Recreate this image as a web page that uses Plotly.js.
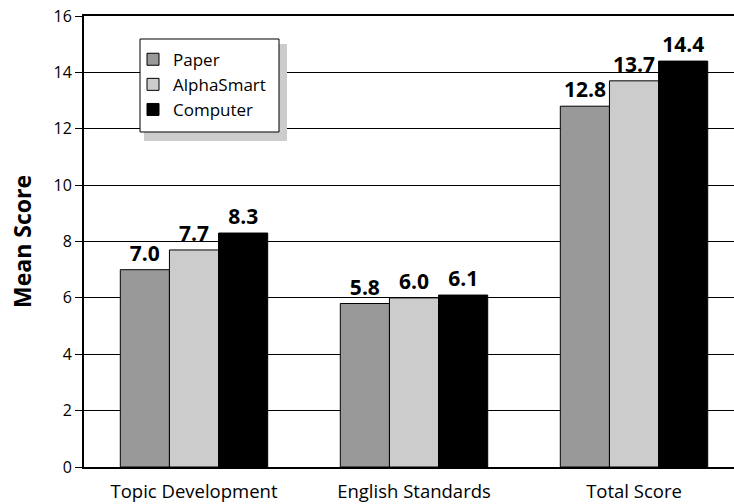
<!DOCTYPE html>
<html><head><meta charset="utf-8">
<script src="https://cdn.plot.ly/plotly-3.0.1.min.js"></script>
<style>html,body{margin:0;padding:0;background:#fff}#chart{width:734px;height:504px}</style>
</head><body><div id="chart"></div>
<script>
const categories = ['Topic Development', 'English Standards', 'Total Score'];
const seriesNames = ['Paper', 'AlphaSmart', 'Computer'];
const paperValues = [7.0, 5.8, 12.8];
const alphaSmartValues = [7.7, 6.0, 13.7];
const computerValues = [8.3, 6.1, 14.4];
const yTicks = [0, 2, 4, 6, 8, 10, 12, 14, 16];
const colors = ['#999999', '#cccccc', '#000000'];
const FONT = 'Open Sans, Lato, sans-serif';

const xIdx = categories.map((c, i) => i);
const allValues = [paperValues, alphaSmartValues, computerValues];
const traces = allValues.map((vals, k) => ({
  type: 'bar', name: seriesNames[k], x: xIdx, y: vals,
  legendgroup: 'g' + k,
  marker: {color: colors[k], line: {color: '#000', width: 1}},
  texttemplate: '<b>%{y:.1f}</b>', textposition: 'outside', cliponaxis: false,
  textfont: {family: FONT, size: 21, color: '#000'},
  hoverinfo: 'none'
}));

const boundaries = categories.slice(0, -1).map((c, i) => i + 0.5).concat([-0.5]);
const xr = [-0.5, 2.4545];

const layout = {
  width: 734, height: 504,
  margin: {l: 84, r: 0, t: 16, b: 37},
  paper_bgcolor: '#fff', plot_bgcolor: '#fff',
  font: {family: FONT, color: '#000'},
  barmode: 'group', bargap: 0.33, bargroupgap: 0,
  showlegend: true,
  legend: {x: 0.0754, y: 0.943, xanchor: 'left', yanchor: 'top',
    bgcolor: 'rgba(0,0,0,0)', borderwidth: 0,
    font: {family: FONT, size: 17, color: '#000'},
    traceorder: 'grouped', tracegroupgap: 0},
  xaxis: {type: 'linear', range: xr, tickmode: 'array', tickvals: xIdx, ticktext: categories,
    ticks: '', showgrid: false, zeroline: false, showline: true, linecolor: '#000', linewidth: 2,
    mirror: true, ticklabelstandoff: 7, tickfont: {family: FONT, size: 18.5, color: '#000'}},
  xaxis2: {overlaying: 'x', side: 'bottom', type: 'linear', range: xr, tickmode: 'array',
    tickvals: boundaries, ticktext: boundaries.map(() => ''), ticks: 'outside', ticklen: 7,
    tickwidth: 1, tickcolor: '#000', showgrid: false, zeroline: false, showline: false},
  yaxis: {range: [0, 16], tickmode: 'array', tickvals: yTicks, ticktext: yTicks.map(String),
    ticks: 'outside', ticklen: 7, tickwidth: 1, tickcolor: '#000',
    showgrid: true, gridcolor: '#000', gridwidth: 1, zeroline: false,
    showline: true, linecolor: '#000', linewidth: 2,
    tickfont: {family: FONT, size: 16, color: '#000'},
    title: {text: '<b>Mean Score</b>', font: {family: FONT, size: 23, color: '#000'}, standoff: 15}},
  shapes: [
    {type: 'rect', xref: 'paper', yref: 'paper', layer: 'above',
      x0: 0.0923, x1: 0.3123, y0: 0.7228, y1: 0.938,
      fillcolor: '#cccccc', line: {width: 0}},
    {type: 'rect', xref: 'paper', yref: 'paper', layer: 'above',
      x0: 0.0862, x1: 0.3, y0: 0.7428, y1: 0.949,
      fillcolor: '#ffffff', line: {color: '#000', width: 1}}
  ]
};

Plotly.newPlot('chart', traces, layout, {staticPlot: true});
</script></body></html>
